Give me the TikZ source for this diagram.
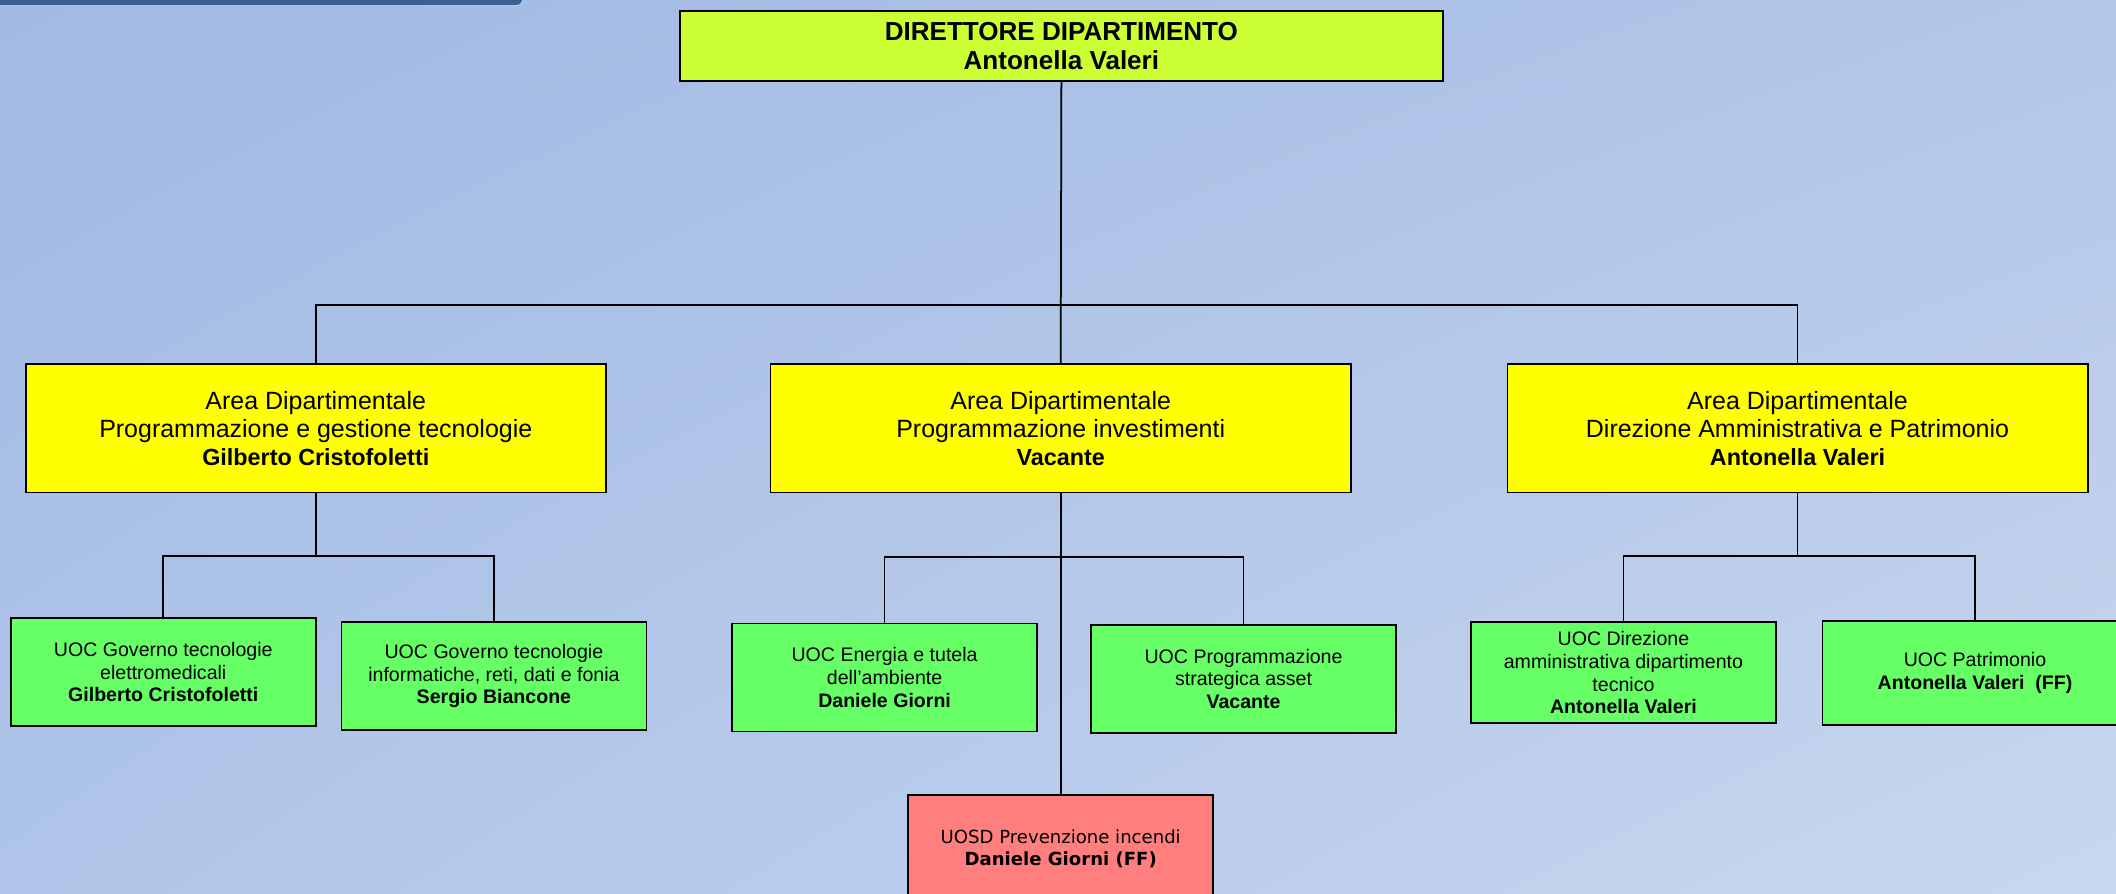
\documentclass[tikz,border=0pt]{standalone}
\usepackage{fontspec}
\usetikzlibrary{shadings}
\setmainfont{Liberation Sans}
\newfontfamily\pinkfont{DejaVu Sans}
\definecolor{bgTL}{HTML}{A1B9E4}
\definecolor{bgTR}{HTML}{B2C6E8}
\definecolor{bgBL}{HTML}{AFC4E8}
\definecolor{bgBR}{HTML}{C9D7EF}
\definecolor{barblue}{HTML}{3D5F90}
\definecolor{topY}{HTML}{CCFF33}
\definecolor{areaY}{HTML}{FFFF00}
\definecolor{uocG}{HTML}{66FF66}
\definecolor{uosdR}{HTML}{FF7F7F}
\newcommand{\areaname}[1]{{\bfseries\fontsize{17.3}{21}\selectfont #1}}
\tikzset{
  box/.style={draw=black, line width=1.3pt, align=center, inner sep=2pt},
  topbox/.style={box, fill=topY, minimum width=565pt, minimum height=52pt,
    font=\bfseries\fontsize{19.3}{21}\selectfont},
  areabox/.style={box, fill=areaY, minimum width=430pt, minimum height=95pt,
    font=\fontsize{18.5}{21}\selectfont},
  uocbox/.style={box, fill=uocG, minimum width=226pt, minimum height=80pt,
    font=\fontsize{14.5}{16.8}\selectfont},
  uosdbox/.style={box, fill=uosdR, minimum width=226pt, minimum height=80pt,
    font=\pinkfont\fontsize{13.4}{16.5}\selectfont},
  link/.style={draw=black, line width=1.3pt},
}
\begin{document}
\begin{tikzpicture}[x=1pt, y=-1pt]
\useasboundingbox (0,0) rectangle (1568,662);
\shade[upper left=bgTL, upper right=bgTR, lower left=bgBL, lower right=bgBR]
  (0,0) rectangle (1568,662);
\fill[barblue, rounded corners=5pt] (-30,-40) rectangle (387,3.8);
\draw[white, opacity=0.25, line width=0.8pt] (0,4.2) -- (384,4.2);

% nodes
\node[topbox] (top) at (786.5,34) {DIRETTORE DIPARTIMENTO\\Antonella Valeri};

\node[areabox] (a1) at (234,317.5) {Area Dipartimentale\\Programmazione e gestione tecnologie\\\areaname{Gilberto Cristofoletti}};
\node[areabox] (a2) at (786,317.5) {Area Dipartimentale\\Programmazione investimenti\\\areaname{Vacante}};
\node[areabox] (a3) at (1332,317.5) {Area Dipartimentale\\Direzione Amministrativa e Patrimonio\\\areaname{Antonella Valeri}};

\node[uocbox] (g1) at (121,498) {UOC Governo tecnologie\\elettromedicali\\\textbf{Gilberto Cristofoletti}};
\node[uocbox] (g2) at (366,501) {UOC Governo tecnologie\\informatiche, reti, dati e fonia\\\textbf{Sergio Biancone}};
\node[uocbox] (g3) at (655.5,502) {UOC Energia e tutela\\dell'ambiente\\\textbf{Daniele Giorni}};
\node[uocbox] (g4) at (921.5,503) {UOC Programmazione\\strategica asset\\\textbf{Vacante}};
\node[uocbox, minimum height=75pt] (g5) at (1203,498.5) {UOC Direzione\\amministrativa dipartimento\\tecnico\\\textbf{Antonella Valeri}};
\node[uocbox, minimum height=77pt] (g6) at (1463.5,498.5) {UOC Patrimonio\\\textbf{Antonella Valeri~~(FF)}};

\node[uosdbox] (p) at (786,629) {UOSD Prevenzione incendi\\\textbf{Daniele Giorni (FF)}};

% junctions
\coordinate (bus) at (786,226);
\coordinate (b1) at (234,412);
\coordinate (b2) at (786,413);
\coordinate (b3) at (1332,412);

% connectors
\draw[link] (top.south) -- (a2.north);
\draw[link] (a1.north) |- (bus) -| (a3.north);
\draw[link] (a1.south) -- (b1);
\draw[link] (g1.north) |- (b1) -| (g2.north);
\draw[link] (a2.south) -- (p.north);
\draw[link] (g3.north) |- (b2) -| (g4.north);
\draw[link] (a3.south) -- (b3);
\draw[link] (g5.north) |- (b3) -| (g6.north);
\end{tikzpicture}
\end{document}
